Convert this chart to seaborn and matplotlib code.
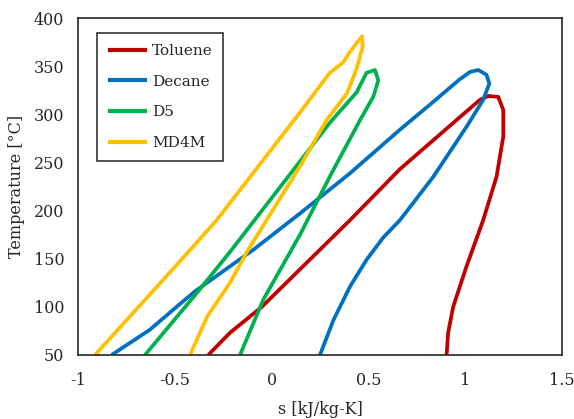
import matplotlib
matplotlib.use("Agg")
import matplotlib.pyplot as plt
import seaborn as sns
import pandas as pd
from matplotlib.ticker import FuncFormatter

# ---- data (entropy s [kJ/kg-K], temperature T [°C]) ----
toluene_s = [-0.327, -0.215, -0.05, 0.147, 0.405, 0.663, 0.921, 1.076, 1.12, 1.171,
             1.197, 1.197, 1.162, 1.093, 1.007, 0.938, 0.912, 0.904]
toluene_T = [50, 73, 100, 139, 190, 243, 288, 315, 319, 318,
             304.5, 277, 235, 190, 142, 100, 73, 50]

decane_s = [-0.826, -0.63, -0.473, -0.396, -0.215, -0.096, 0.147, 0.405, 0.663, 0.818,
            0.97, 1.025, 1.068, 1.11, 1.125, 1.093, 1.007, 0.835, 0.663, 0.577,
            0.491, 0.405, 0.319, 0.25]
decane_T = [50, 76, 103, 116, 142, 159, 197, 238.7, 284, 310,
            336, 344, 346, 341, 332, 315, 287, 235, 190, 172,
            149, 121, 86, 50]

d5_s = [-0.654, -0.396, -0.215, 0.30, 0.44, 0.49, 0.534,
        0.551, 0.525, 0.457, 0.30, 0.147, 0.043, -0.044, -0.163]
d5_T = [50, 112, 157, 291, 323, 343, 346,
        335, 318, 294, 235, 175, 138, 107, 50]

md4m_s = [-0.912, -0.421, -0.284, 0.147, 0.30, 0.37, 0.405, 0.467,
          0.47, 0.44, 0.39, 0.284, 0.147, -0.122, -0.215, -0.334, -0.421]
md4m_T = [50, 159, 190, 302, 343, 354, 365, 381,
          370, 348, 322, 294, 246, 159, 125, 89.5, 50]

fluids = ["Toluene", "Decane", "D5", "MD4M"]
colors = ["#C00000", "#0070C0", "#00B050", "#FFC000"]

x_ticks = [-1, -0.5, 0, 0.5, 1, 1.5]
y_ticks = [50, 100, 150, 200, 250, 300, 350, 400]

frames = []
for name, s, T in [("Toluene", toluene_s, toluene_T), ("Decane", decane_s, decane_T),
                   ("D5", d5_s, d5_T), ("MD4M", md4m_s, md4m_T)]:
    df = pd.DataFrame({"s": s, "T": T})
    df["fluid"] = name
    frames.append(df)
data = pd.concat(frames, ignore_index=True)

sns.set_theme(style="white")
plt.rcParams["font.family"] = ["DejaVu Serif"]
plt.rcParams["lines.solid_joinstyle"] = "round"
plt.rcParams["lines.solid_capstyle"] = "butt"

fig = plt.figure(figsize=(5.74, 4.19), dpi=100)
ax = fig.add_axes([0.136, 0.153, 0.843, 0.804])

sns.lineplot(data=data, x="s", y="T", hue="fluid", hue_order=fluids,
             palette=dict(zip(fluids, colors)), sort=False, estimator=None,
             units="fluid", linewidth=2.7, ax=ax)
for ln in ax.get_lines():
    ln.set_solid_joinstyle("round")

ax.set_xlim(-1, 1.5)
ax.set_ylim(50, 400)
ax.set_xticks(x_ticks)
ax.set_yticks(y_ticks)
ax.xaxis.set_major_formatter(FuncFormatter(lambda v, p: f"{v:g}"))
ax.yaxis.set_major_formatter(FuncFormatter(lambda v, p: f"{v:g}"))
ax.tick_params(axis="both", length=0, labelsize=11.5, colors="#262626")
ax.tick_params(axis="x", pad=12)
ax.tick_params(axis="y", pad=10)
ax.set_xlabel("s [kJ/kg-K]", fontsize=11.5, color="#262626", labelpad=9)
ax.set_ylabel("Temperature [°C]", fontsize=11.5, color="#262626", labelpad=6)
for sp in ax.spines.values():
    sp.set_visible(True)
    sp.set_color("#262626")
    sp.set_linewidth(1.2)
ax.grid(False)

handles, labels = ax.get_legend_handles_labels()
for h in handles:
    h.set_linewidth(3.0)
leg = ax.legend(handles, labels, loc="upper left", bbox_to_anchor=(0.039, 0.955),
                borderaxespad=0, frameon=True, fancybox=False, fontsize=11,
                handlelength=2.6, handletextpad=0.3, labelspacing=1.1,
                borderpad=0.7)
leg.get_frame().set_edgecolor("black")
leg.get_frame().set_linewidth(1.2)

fig.savefig("out.png", dpi=100)
